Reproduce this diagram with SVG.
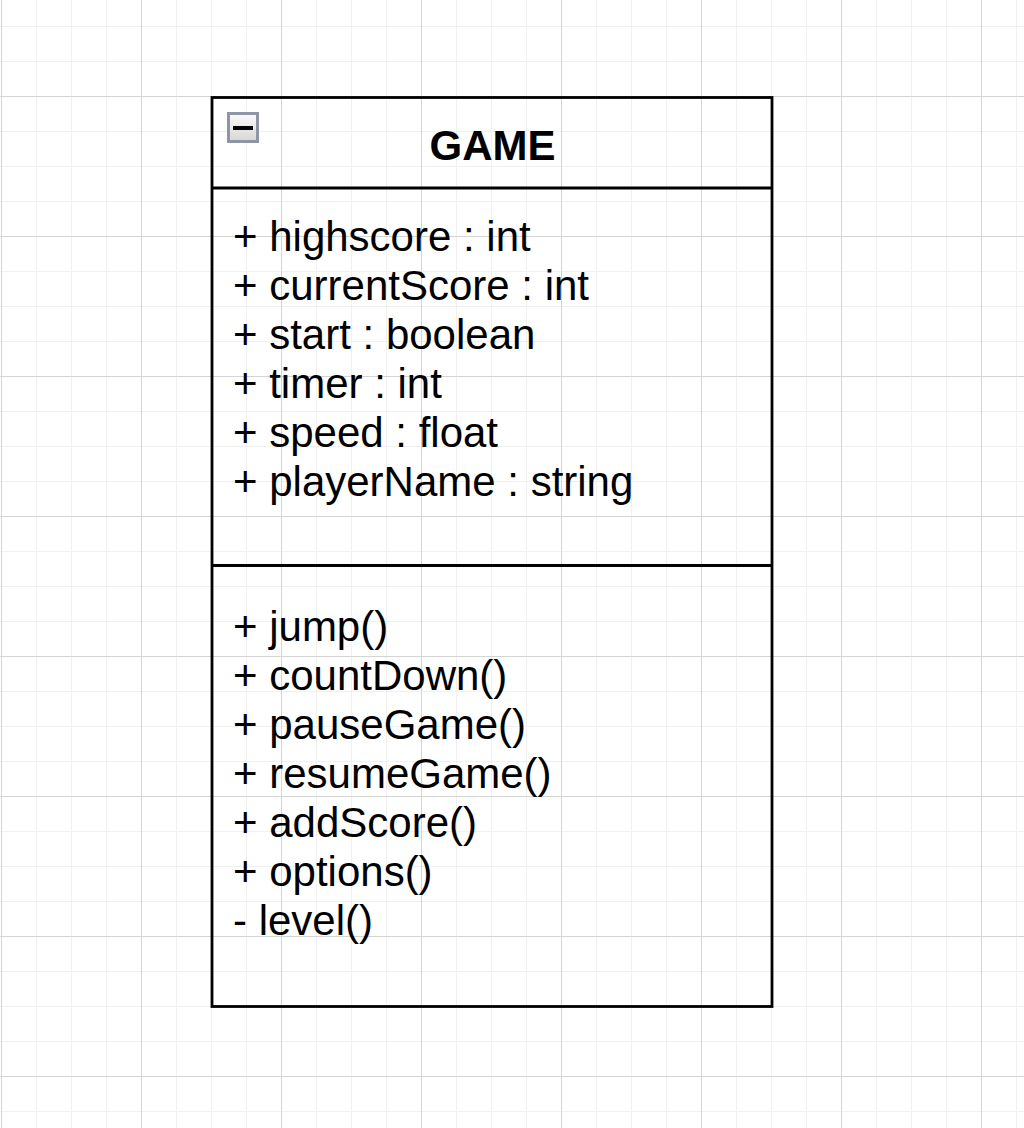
<svg xmlns="http://www.w3.org/2000/svg" width="1024" height="1128" viewBox="0 0 1024 1128">
<style>
.t{font-family:"Liberation Sans",Arial,Helvetica,sans-serif;font-size:42px;fill:#000}
.title{font-family:"Liberation Sans",Arial,Helvetica,sans-serif;font-size:42px;font-weight:bold;fill:#000}
.edge{fill:none;stroke:#000;stroke-width:2.8}
</style>
<defs>
<pattern id="grid" x="1" y="96" width="140" height="140" patternUnits="userSpaceOnUse">
<path d="M35.5 0V140M70.5 0V140M105.5 0V140M0 35.5H140M0 70.5H140M0 105.5H140" stroke="#f0f0f0" stroke-width="1" fill="none"/>
<path d="M0.5 0V140M0 0.5H140" stroke="#d4d4d4" stroke-width="1" fill="none"/>
</pattern>
<linearGradient id="btn" x1="0" y1="0" x2="0" y2="1">
<stop offset="0" stop-color="#fbfbfb"/>
<stop offset="1" stop-color="#d6d6d6"/>
</linearGradient>
</defs>
<rect width="1024" height="1128" fill="#ffffff"/>
<rect width="1024" height="1128" fill="url(#grid)"/>
<g id="connectors"></g>
<g id="game-class">
<rect class="edge" x="212" y="97.5" width="560" height="909"/>
<line class="edge" x1="212" y1="188" x2="772" y2="188"/>
<line class="edge" x1="212" y1="565.5" x2="772" y2="565.5"/>
<g id="collapse-button">
<rect x="228.5" y="113.5" width="29" height="28" fill="url(#btn)" stroke="#8e96a6" stroke-width="3"/>
<rect x="233" y="126" width="20" height="4" fill="#000"/>
</g>
<text class="title" x="492.5" y="159.5" text-anchor="middle">GAME</text>
<g id="attributes">
<text class="t" x="233" y="251">+ highscore : int</text>
<text class="t" x="233" y="300">+ currentScore : int</text>
<text class="t" x="233" y="349">+ start : boolean</text>
<text class="t" x="233" y="398">+ timer : int</text>
<text class="t" x="233" y="447">+ speed : float</text>
<text class="t" x="233" y="496">+ playerName : string</text>
</g>
<g id="methods">
<text class="t" x="233" y="641">+ jump()</text>
<text class="t" x="233" y="690">+ countDown()</text>
<text class="t" x="233" y="739">+ pauseGame()</text>
<text class="t" x="233" y="788">+ resumeGame()</text>
<text class="t" x="233" y="837">+ addScore()</text>
<text class="t" x="233" y="886">+ options()</text>
<text class="t" x="233" y="935">- level()</text>
</g>
</g>
</svg>
